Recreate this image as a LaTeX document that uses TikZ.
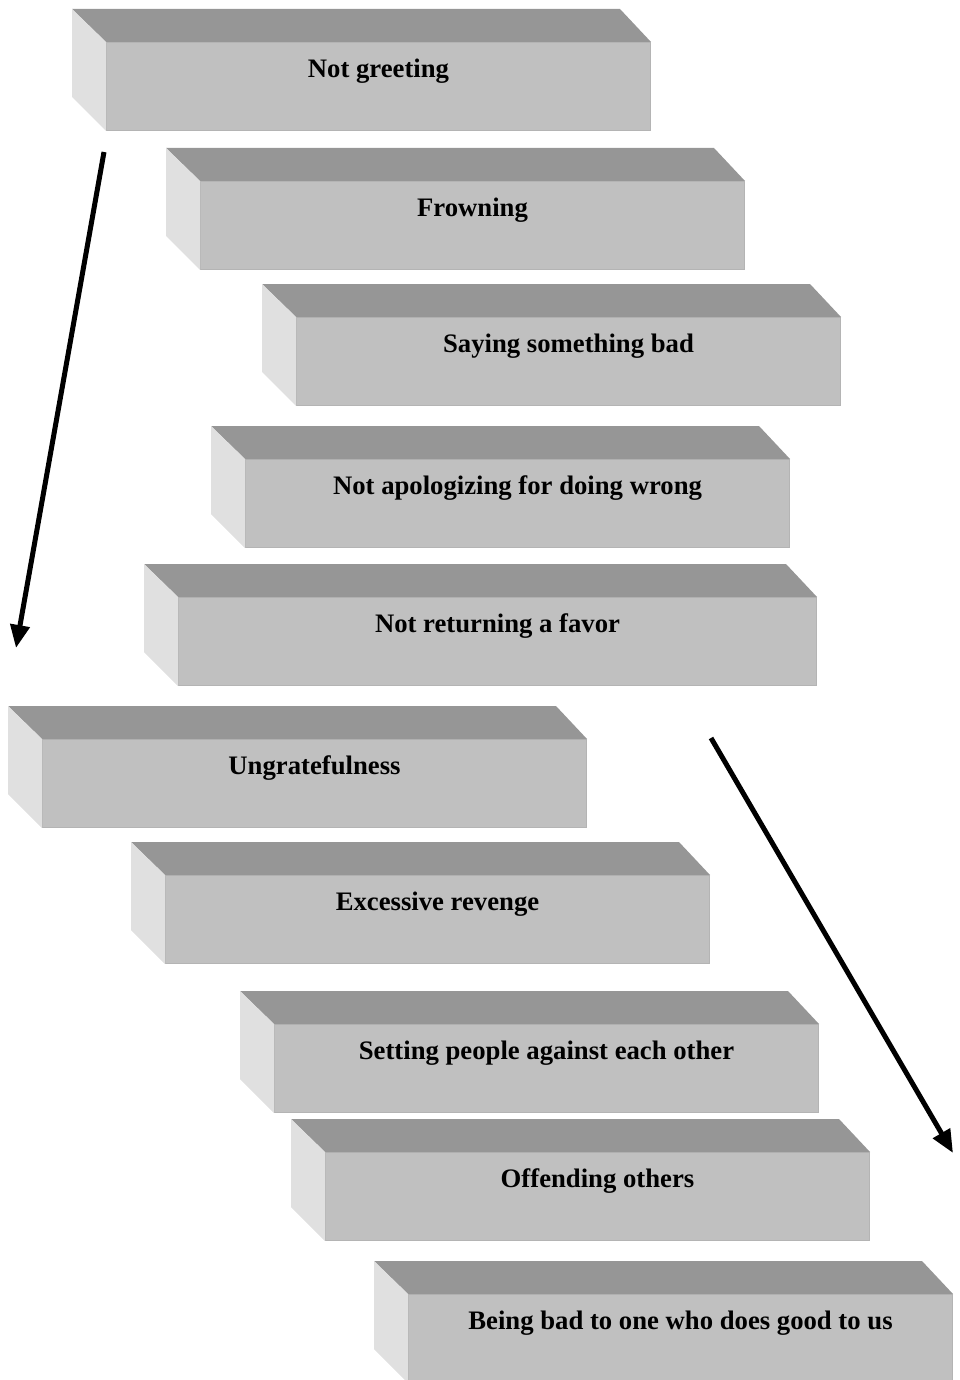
\documentclass[tikz,border=0pt]{standalone}
\usepackage{fontspec}
\setmainfont{Liberation Serif}
\usetikzlibrary{arrows.meta}

\definecolor{facetop}{HTML}{969696}
\definecolor{facefront}{HTML}{C0C0C0}
\definecolor{faceside}{HTML}{E0E0E0}
\definecolor{faceedge}{HTML}{B4B4B4}

\begin{document}
\begin{tikzpicture}[
  x=1pt, y=-1pt,
  front/.style={anchor=north west, fill=facefront, draw=faceedge, line width=1pt,
                minimum width=544pt, inner xsep=0pt, inner ysep=0pt,
                text height=35pt, text depth=53pt,
                font=\fontsize{26.7}{30}\selectfont\bfseries},
  topface/.style={fill=facetop},
  sideface/.style={fill=faceside},
  arr/.style={-{Triangle[length=23pt, width=19pt]}, line width=5pt, black},
]
\useasboundingbox (0,0) rectangle (960,1380);
% front faces of the steps
\node[front] (b1) at (106,42) {Not greeting};
\node[front] (b2) at (200,181) {Frowning};
\node[front] (b3) at (296,317) {Saying something bad};
\node[front] (b4) at (245,459) {Not apologizing for doing wrong};
\node[front, minimum width=638pt] (b5) at (178,597) {Not returning a favor};
\node[front] (b6) at (42,739) {Ungratefulness};
\node[front] (b7) at (165,875) {Excessive revenge};
\node[front] (b8) at (274,1024) {Setting people against each other};
\node[front] (b9) at (325,1152) {Offending others};
\node[front] (b10) at (408,1294) {Being bad to one who does good to us};
% top and left faces
\foreach \b in {b1,b2,b3,b4,b5,b6,b7,b8,b9,b10} {
  \fill[topface] (\b.north west) -- ++(-34,-33)
    -- ([shift={(-31,-33)}]\b.north east) -- (\b.north east) -- cycle;
  \fill[sideface] (\b.north west) -- ++(-34,-33) -- ++(0,88)
    -- (\b.south west) -- cycle;
}
% arrow ends
\coordinate (l0) at (104,152);
\coordinate (l1) at (16,648);
\coordinate (r0) at (711,738);
\coordinate (r1) at (953,1153);
\draw[arr] (l0) -- (l1);
\draw[arr] (r0) -- (r1);
\end{tikzpicture}
\end{document}
